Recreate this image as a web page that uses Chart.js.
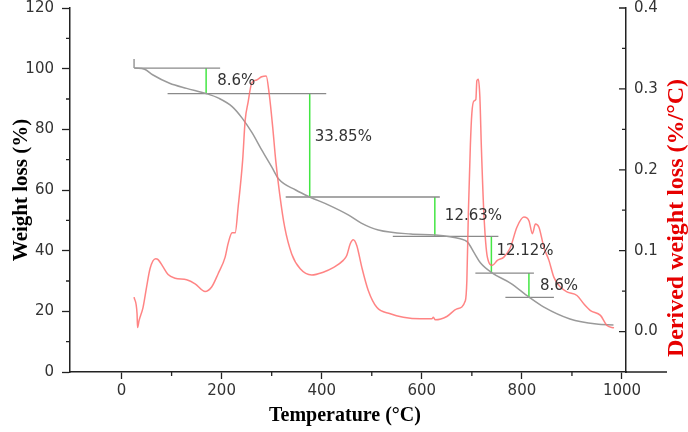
<!DOCTYPE html>
<html>
<head>
<meta charset="utf-8">
<script src="https://cdn.jsdelivr.net/npm/chart.js@4"></script>
<style>
  body { margin: 0; background: #fff; }
  #wrap { width: 688px; height: 432px; position: relative; }
</style>
</head>
<body>
<div id="wrap"><canvas id="tga"></canvas></div>
<script>
// TG curve (weight %, left axis)
const tgTemp   = [27, 46, 62, 96, 130, 169, 195, 221, 241, 261, 280, 300, 314, 348, 376, 413, 453, 479, 513, 578, 626, 677, 691, 705, 717, 741, 777, 814, 844, 896, 949, 983];
const tgWeight = [100.2, 99.8, 98, 95.2, 93.5, 91.8, 90.2, 87.5, 83.7, 78.8, 73.2, 67.6, 63.6, 60, 57.7, 55.1, 51.8, 49.1, 46.8, 45.5, 45.2, 43.9, 42.9, 39.2, 36, 32.6, 29.3, 24.7, 21.4, 17.5, 15.8, 15.5];

// DTG curve (%/°C, right axis)
const dtgTemp  = [25, 31, 32, 35, 43, 50, 57, 68, 73, 83, 93, 107, 130, 147, 167, 180, 193, 207, 213, 221, 227, 233, 242, 247, 253, 260, 270, 280, 289, 295, 302, 308, 316, 326, 340, 357, 380, 403, 423, 443, 450, 457, 463, 470, 480, 493, 510, 537, 563, 597, 620, 623, 627, 650, 670, 687, 690, 693, 697, 700, 704, 708, 710, 713, 716, 719, 724, 731, 741, 751, 764, 777, 790, 804, 814, 821, 827, 834, 844, 854, 864, 877, 890, 910, 924, 937, 957, 970, 984];
const dtgValue = [0.0425, 0.022, 0.005, 0.0136, 0.030, 0.055, 0.078, 0.090, 0.089, 0.080, 0.0705, 0.066, 0.064, 0.059, 0.0495, 0.055, 0.0715, 0.092, 0.109, 0.122, 0.122, 0.154, 0.212, 0.261, 0.284, 0.307, 0.311, 0.315, 0.316, 0.294, 0.253, 0.212, 0.170, 0.129, 0.096, 0.0776, 0.070, 0.0734, 0.079, 0.088, 0.094, 0.1086, 0.1136, 0.1065, 0.0797, 0.0508, 0.030, 0.022, 0.0177, 0.0157, 0.0157, 0.0177, 0.0145, 0.0186, 0.028, 0.038, 0.063, 0.146, 0.23, 0.27, 0.285, 0.287, 0.31, 0.312, 0.29, 0.228, 0.146, 0.092, 0.082, 0.088, 0.092, 0.104, 0.129, 0.1415, 0.137, 0.121, 0.133, 0.129, 0.104, 0.088, 0.067, 0.055, 0.049, 0.0446, 0.034, 0.026, 0.020, 0.0074, 0.0046];

// step construction lines
const stepLevels = [100.2, 91.8, 57.7, 44.7, 32.6, 24.6];
const stepSpans  = [[25, 197], [92, 409], [328, 636], [542, 753], [707, 824], [767, 864]];
const dropTemps  = [169, 376, 626, 739, 814];
const dropLabels = ['8.6%', '33.85%', '12.63%', '12.12%', '8.6%'];
const labelTemp  = [191, 386, 646, 749, 836];
const labelWt    = [96, 77.5, 51.4, 39.9, 28.4];

// axis ticks
const xTicks  = [0, 200, 400, 600, 800, 1000];
const xMinor  = [100, 300, 500, 700, 900];
const yTicks  = [0, 20, 40, 60, 80, 100, 120];
const yMinor  = [10, 30, 50, 70, 90, 110];
const y2Ticks = [0, 0.1, 0.2, 0.3, 0.4];
const y2Minor = [0.05, 0.15, 0.25, 0.35];

const zip = (a, b) => a.map((v, i) => ({x: v, y: b[i]}));

const datasets = [
  {
    label: 'DTG', data: zip(dtgTemp, dtgValue), yAxisID: 'y2',
    borderColor: 'rgba(255,110,110,0.85)', borderWidth: 1.5,
    pointRadius: 0, cubicInterpolationMode: 'monotone'
  },
  {
    label: 'TG', data: zip(tgTemp, tgWeight), yAxisID: 'y',
    borderColor: '#9a9a9a', borderWidth: 1.5,
    pointRadius: 0, cubicInterpolationMode: 'monotone'
  }
];
// horizontal levels
stepSpans.forEach((s, i) => {
  datasets.push({
    data: [{x: s[0], y: stepLevels[i]}, {x: s[1], y: stepLevels[i]}], yAxisID: 'y',
    borderColor: '#8a8a8a', borderWidth: 1.3, pointRadius: 0
  });
});
// small start tick
datasets.push({
  data: [{x: stepSpans[0][0], y: stepLevels[0]}, {x: stepSpans[0][0], y: stepLevels[0] + 3}], yAxisID: 'y',
  borderColor: '#8a8a8a', borderWidth: 1.3, pointRadius: 0
});
// green drops
dropTemps.forEach((t, i) => {
  datasets.push({
    data: [{x: t, y: stepLevels[i]}, {x: t, y: stepLevels[i + 1]}], yAxisID: 'y',
    borderColor: '#44e644', borderWidth: 1.5, pointRadius: 0
  });
});

const tickFont = {family: 'DejaVu Sans', size: 15};

const extras = {
  id: 'extras',
  afterDraw(chart) {
    const c = chart.ctx, x = chart.scales.x, y = chart.scales.y, y2 = chart.scales.y2;
    const top = chart.chartArea.top, bot = chart.chartArea.bottom;
    const L = chart.chartArea.left, R = chart.chartArea.right;
    c.save();
    c.strokeStyle = '#222';
    c.lineWidth = 1.3;
    c.beginPath();
    // minor x ticks
    xMinor.forEach(v => { const p = x.getPixelForValue(v); c.moveTo(p, bot); c.lineTo(p, bot + 4); });
    // minor left ticks
    yMinor.forEach(v => { const p = y.getPixelForValue(v); c.moveTo(L, p); c.lineTo(L - 4, p); });
    // right axis ticks point inward
    y2Ticks.forEach(v => { const p = y2.getPixelForValue(v); c.moveTo(R, p); c.lineTo(R - 7, p); });
    y2Minor.forEach(v => { const p = y2.getPixelForValue(v); c.moveTo(R, p); c.lineTo(R - 4, p); });
    // x axis runs a bit past the right axis
    c.moveTo(R, bot); c.lineTo(R + 41, bot);
    c.stroke();

    // step labels
    c.fillStyle = '#333';
    c.font = '15px "DejaVu Sans"';
    c.textAlign = 'left';
    c.textBaseline = 'middle';
    dropLabels.forEach((t, i) => {
      c.fillText(t, x.getPixelForValue(labelTemp[i]), y.getPixelForValue(labelWt[i]));
    });

    // axis titles
    c.textAlign = 'center';
    c.fillStyle = '#000';
    c.font = 'bold 20px "Liberation Serif"';
    c.fillText('Temperature (°C)', (L + R) / 2 - 3, 416);
    c.save();
    c.translate(22, 190);
    c.rotate(-Math.PI / 2);
    c.font = 'bold 21px "Liberation Serif"';
    c.fillText('Weight loss (%)', 0, 0);
    c.restore();
    c.save();
    c.translate(677, 218);
    c.rotate(-Math.PI / 2);
    c.fillStyle = '#e60000';
    c.font = 'bold 24px "Liberation Serif"';
    c.fillText('Derived weight loss (%/°C)', 0, 0);
    c.restore();
    c.restore();
  }
};

const noPad = s => { s.paddingTop = 0; s.paddingBottom = 0; };

new Chart(document.getElementById('tga'), {
  type: 'line',
  data: {datasets: datasets},
  options: {
    responsive: true,
    maintainAspectRatio: false,
    animation: false,
    layout: {padding: {top: 8, left: 0, right: 0, bottom: 0}},
    plugins: {legend: {display: false}, tooltip: {enabled: false}},
    scales: {
      x: {
        type: 'linear', min: -103, max: 1008,
        afterBuildTicks: s => { s.ticks = xTicks.map(v => ({value: v})); },
        afterFit: s => { s.height = 60; s.paddingLeft = 0; s.paddingRight = 0; },
        border: {color: '#222', width: 1.5},
        grid: {drawOnChartArea: false, tickLength: 7, tickColor: '#222', tickWidth: 1.3},
        ticks: {color: '#333', font: tickFont, padding: 3, maxRotation: 0, callback: v => String(v)}
      },
      y: {
        position: 'left', min: 0, max: 120,
        afterBuildTicks: s => { s.ticks = yTicks.map(v => ({value: v})); },
        afterFit: s => { s.width = 70; noPad(s); },
        border: {color: '#222', width: 1.5},
        grid: {drawOnChartArea: false, tickLength: 8, tickColor: '#222', tickWidth: 1.3},
        ticks: {color: '#333', font: tickFont, padding: 8}
      },
      y2: {
        position: 'right', min: -0.05, max: 0.4,
        afterBuildTicks: s => { s.ticks = y2Ticks.map(v => ({value: v})); },
        afterFit: s => { s.width = 62; noPad(s); },
        border: {color: '#222', width: 1.5},
        grid: {drawOnChartArea: false, drawTicks: false},
        ticks: {color: '#333', font: tickFont, padding: 8, callback: v => v.toFixed(1)}
      }
    }
  },
  plugins: [extras]
});
</script>
</body>
</html>
